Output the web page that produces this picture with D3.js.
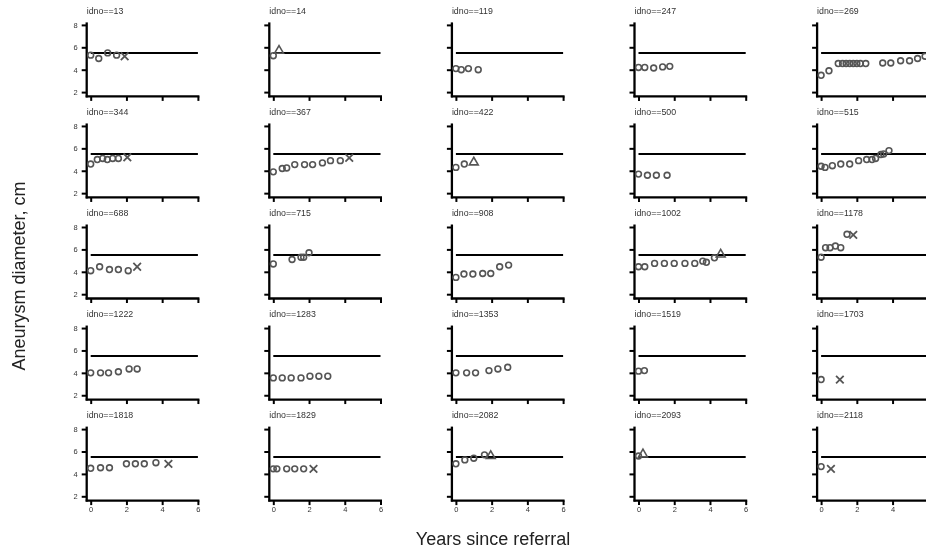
<!DOCTYPE html>
<html>
<head>
<meta charset="utf-8">
<script src="https://cdn.jsdelivr.net/npm/d3@7"></script>
<style>
  html, body { margin: 0; padding: 0; background: #fff; }
  svg { display: block; font-family: "Liberation Sans", Arial, sans-serif; filter: grayscale(100%); }
</style>
</head>
<body>
<svg id="chart" width="926" height="554"></svg>
<script>
// ---- data ----
const ids = [13, 14, 119, 247, 269, 344, 367, 422, 500, 515, 688, 715, 908, 1002, 1178,
             1222, 1283, 1353, 1519, 1703, 1818, 1829, 2082, 2093, 2118];

const years = [
  [0, 0.45, 0.95, 1.45, 1.9],
  [0, 0.32],
  [0, 0.3, 0.7, 1.25],
  [0, 0.35, 0.85, 1.35, 1.75],
  [0, 0.44, 0.96, 1.2, 1.4, 1.6, 1.8, 2.0, 2.2, 2.5, 3.45, 3.9, 4.45, 4.95, 5.4, 5.82],
  [0, 0.37, 0.67, 0.93, 1.23, 1.55, 2.05],
  [0, 0.5, 0.75, 1.2, 1.75, 2.2, 2.75, 3.2, 3.75, 4.25],
  [0, 0.47, 1.0],
  [0, 0.5, 1.0, 1.6],
  [0, 0.22, 0.63, 1.1, 1.6, 2.1, 2.55, 2.85, 3.05, 3.35, 3.5, 3.8],
  [0, 0.5, 1.05, 1.55, 2.1, 2.6],
  [0, 1.05, 1.55, 1.7, 2.0],
  [0, 0.45, 0.95, 1.5, 1.95, 2.45, 2.95],
  [0, 0.35, 0.9, 1.45, 2.0, 2.6, 3.15, 3.6, 3.8, 4.25, 4.6],
  [0, 0.25, 0.5, 0.8, 1.1, 1.45, 1.8],
  [0, 0.55, 1.0, 1.55, 2.15, 2.6],
  [0, 0.5, 1.0, 1.55, 2.05, 2.55, 3.05],
  [0, 0.6, 1.1, 1.85, 2.35, 2.9],
  [0, 0.33],
  [0, 1.05],
  [0, 0.55, 1.05, 2.0, 2.5, 3.0, 3.65, 4.35],
  [0, 0.2, 0.75, 1.2, 1.7, 2.25],
  [0, 0.5, 1.0, 1.6, 1.95],
  [0, 0.25],
  [0, 0.55]
];

const diameters = [
  [5.3, 5.0, 5.5, 5.3, 5.2],
  [5.25, 5.7],
  [4.1, 4.0, 4.1, 4.0],
  [4.2, 4.2, 4.15, 4.25, 4.3],
  [3.5, 3.9, 4.55, 4.55, 4.55, 4.55, 4.55, 4.55, 4.55, 4.55, 4.6, 4.6, 4.8, 4.8, 5.0, 5.2],
  [4.6, 5.0, 5.1, 5.0, 5.1, 5.1, 5.2],
  [3.9, 4.2, 4.25, 4.55, 4.55, 4.55, 4.7, 4.9, 4.9, 5.15],
  [4.3, 4.6, 4.75],
  [3.7, 3.6, 3.6, 3.6],
  [4.4, 4.3, 4.45, 4.6, 4.6, 4.9, 5.0, 5.0, 5.1, 5.45, 5.5, 5.8],
  [4.1, 4.45, 4.2, 4.2, 4.1, 4.45],
  [4.7, 5.1, 5.3, 5.3, 5.7],
  [3.5, 3.8, 3.8, 3.85, 3.85, 4.45, 4.6],
  [4.45, 4.45, 4.75, 4.75, 4.75, 4.75, 4.75, 4.95, 4.85, 5.25, 5.55],
  [5.3, 6.15, 6.15, 6.3, 6.15, 7.35, 7.3],
  [4.0, 4.0, 4.0, 4.1, 4.35, 4.35],
  [3.55, 3.55, 3.55, 3.55, 3.7, 3.7, 3.7],
  [4.0, 4.0, 4.0, 4.2, 4.35, 4.5],
  [4.15, 4.2],
  [3.4, 3.4],
  [4.5, 4.55, 4.55, 4.9, 4.9, 4.9, 5.0, 4.9],
  [4.45, 4.45, 4.45, 4.45, 4.45, 4.45],
  [4.9, 5.25, 5.4, 5.7, 5.6],
  [5.6, 5.75],
  [4.65, 4.45]
];

// o = follow-up scan, x = died, t = surgery
const markers = [
  "oooox", "ot", "oooo", "ooooo", "oooooooooooooooo",
  "oooooox", "ooooooooox", "oot", "oooo", "oooooooooooo",
  "ooooox", "ooooo", "ooooooo", "oooooooooot", "oooooox",
  "oooooo", "ooooooo", "oooooo", "oo", "ox",
  "ooooooox", "ooooox", "oooot", "ot", "ox"
];

const referenceLine = 5.5;
const xTicks = [0, 2, 4, 6];
const yTicks = [2, 4, 6, 8];
const xTitle = "Years since referral";
const yTitle = "Aneurysm diameter, cm";

// ---- layout ----
const W = 926;
const svg = d3.select("#chart");
const nCols = 5;
const colX0 = 90.7, colStep = 182.6;
const rowY0 = 24.9, rowStep = 101.05;
const pw = 107.2, ph = 67.2;
const markColor = "#555555";

const x = d3.scaleLinear().domain([0, 6]).range([0, pw]);
const y = d3.scaleLinear().domain([2, 8]).range([ph, 0]);

ids.forEach((id, i) => {
  const c = i % nCols, r = Math.floor(i / nCols);
  const ox = colX0 + c * colStep, oy = rowY0 + r * rowStep;
  const g = svg.append("g").attr("transform", `translate(${ox},${oy})`);
  const axisY = ph + 4.3;

  // title
  g.append("text")
    .attr("x", -4).attr("y", -11)
    .attr("font-size", 8.8).attr("fill", "#333")
    .text("idno==" + id);

  // y axis ticks
  const ya = d3.axisLeft(y).tickValues(yTicks).tickSize(5).tickPadding(4)
    .tickFormat(c === 0 ? d3.format("d") : () => "");
  const yg = g.append("g").attr("transform", "translate(-4,0)").call(ya);
  yg.select(".domain").remove();
  yg.selectAll(".tick line").attr("stroke", "#000").attr("stroke-width", 2);
  yg.selectAll(".tick text").attr("font-size", 7.5).attr("fill", "#333")
    .attr("font-family", "Liberation Sans, Arial, sans-serif");

  // x axis ticks (labels only on the bottom row, and only where they fit in the picture)
  const xa = d3.axisBottom(x).tickValues(xTicks).tickSize(4.5).tickPadding(1.5)
    .tickFormat(v => (r === 4 && ox + x(v) + 3 < W) ? d3.format("d")(v) : "");
  const xg = g.append("g").attr("transform", `translate(0,${axisY})`).call(xa);
  xg.select(".domain").remove();
  xg.selectAll(".tick line").attr("stroke", "#000").attr("stroke-width", 2);
  xg.selectAll(".tick text").attr("font-size", 7.5).attr("fill", "#333")
    .attr("font-family", "Liberation Sans, Arial, sans-serif");

  // axis lines
  g.append("line").attr("x1", -4).attr("x2", -4).attr("y1", -2.5).attr("y2", axisY + 1)
    .attr("stroke", "#000").attr("stroke-width", 2.3);
  g.append("line").attr("x1", -5).attr("x2", pw + 1.5).attr("y1", axisY).attr("y2", axisY)
    .attr("stroke", "#000").attr("stroke-width", 2.3);

  // reference line
  g.append("line")
    .attr("x1", x(0)).attr("x2", x(6))
    .attr("y1", y(referenceLine)).attr("y2", y(referenceLine))
    .attr("stroke", "#000").attr("stroke-width", 2);

  // points
  const pts = years[i].map((t, k) => ({ t, d: diameters[i][k], m: markers[i][k] }));
  pts.forEach(p => {
    const px = x(p.t), py = y(p.d);
    if (p.m === "o") {
      g.append("circle").attr("cx", px).attr("cy", py).attr("r", 2.9)
        .attr("fill", "none").attr("stroke", markColor).attr("stroke-width", 1.6);
    } else if (p.m === "x") {
      const s = 3.8;
      g.append("path")
        .attr("d", `M${px - s},${py - s}L${px + s},${py + s}M${px - s},${py + s}L${px + s},${py - s}`)
        .attr("stroke", markColor).attr("stroke-width", 1.8).attr("fill", "none");
    } else {
      g.append("path")
        .attr("transform", `translate(${px},${py})`)
        .attr("d", d3.symbol(d3.symbolTriangle, 34)())
        .attr("fill", "none").attr("stroke", markColor).attr("stroke-width", 1.6);
    }
  });
});

// axis titles
svg.append("text")
  .attr("x", 493).attr("y", 545)
  .attr("text-anchor", "middle").attr("font-size", 18).attr("fill", "#222")
  .text(xTitle);

svg.append("text")
  .attr("transform", "translate(25,276) rotate(-90)")
  .attr("text-anchor", "middle").attr("font-size", 18).attr("fill", "#222")
  .text(yTitle);
</script>
</body>
</html>
